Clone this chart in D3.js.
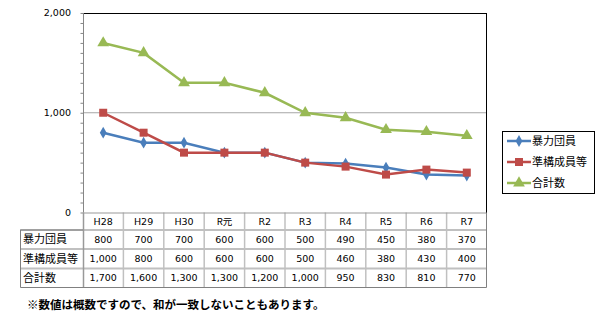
<!DOCTYPE html>
<html><head><meta charset="utf-8">
<script src="https://cdn.jsdelivr.net/npm/d3@7/dist/d3.min.js"></script>
<style>body{margin:0;background:#fff}svg{display:block}</style>
</head><body>
<script>
const categories = ["H28","H29","H30","R元","R2","R3","R4","R5","R6","R7"];
const seriesNames = ["暴力団員","準構成員等","合計数"];
const boryokudan = [800,700,700,600,600,500,490,450,380,370];
const junkosei = [1000,800,600,600,600,500,460,380,430,400];
const gokei = [1700,1600,1300,1300,1200,1000,950,830,810,770];
const yTicks = [0,1000,2000];
const footnote = "※数値は概数ですので、和が一致しないこともあります。";

const colors = ["#4A7EBB","#BE4B48","#98B954"];
const series = [boryokudan, junkosei, gokei];
const W=600,H=325;
const L=83,R=487,T=13,B=212.5;
const svg=d3.select("body").append("svg").attr("width",W).attr("height",H);
const numFont="'DejaVu Sans', Verdana, sans-serif";
const jpFont="'Noto Sans CJK JP', sans-serif";

const x=d3.scaleBand().domain(categories).range([L,R]);
const y=d3.scaleLinear().domain([0,2000]).range([B,T]);

// gridline at 1000
svg.append("line").attr("x1",L).attr("x2",R).attr("y1",y(1000)).attr("y2",y(1000)).attr("stroke","#A6A6A6").attr("stroke-width",1);
// plot border top/right
svg.append("path").attr("d",`M${L},${T+0.5}H${R-0.5}V${B}`).attr("fill","none").attr("stroke","#000").attr("stroke-width",1);

// left axis with minor ticks
const yAxis=d3.axisLeft(y).tickValues(d3.range(0,2001,100)).tickSize(3).tickFormat("");
const ga=svg.append("g").attr("transform",`translate(${L+0.5},0)`).call(yAxis);
ga.selectAll("path,line").attr("stroke","#868686");
ga.select(".domain").attr("d",`M0,${T}V${B}`);
// y labels
svg.selectAll("text.yl").data(yTicks).join("text").attr("class","yl")
 .attr("x",71).attr("y",d=>y(d)).attr("dy","0.35em").attr("text-anchor","end")
 .attr("font-family",numFont).attr("font-size",9.5).attr("fill","#000")
 .text(d=>d3.format(",")(d));

// lines
const line=d3.line().x((d,i)=>x(categories[i])+x.bandwidth()/2).y(d=>y(d));
const shapes=[d3.symbolDiamond,d3.symbolSquare,d3.symbolTriangle];
const sizes=[40,64,60];
series.forEach((s,k)=>{
  svg.append("path").datum(s).attr("d",line).attr("fill","none").attr("stroke",colors[k]).attr("stroke-width",2.5);
});
series.forEach((s,k)=>{
  svg.selectAll("path.m"+k).data(s).join("path").attr("class","m"+k)
   .attr("transform",(d,i)=>`translate(${x(categories[i])+x.bandwidth()/2},${y(d)})`)
   .attr("d",d3.symbol().type(shapes[k]).size(sizes[k])).attr("fill",colors[k]);
});

// table
const rowY=[B,230,249,268.5,287.5];
const TL=20;
const tg=svg.append("g");
// inner light lines
const light="#C0C0C0", dark="#808080";
// horizontal lines
[230,249,268.5].forEach(yy=>{
  tg.append("line").attr("x1",TL).attr("x2",R).attr("y1",yy).attr("y2",yy).attr("stroke",light).attr("stroke-width",2);
});
// vertical lines between categories
categories.forEach((c,i)=>{
  if(i===0) return;
  tg.append("line").attr("x1",x(c)).attr("x2",x(c)).attr("y1",B).attr("y2",287.5).attr("stroke",light).attr("stroke-width",1.5);
});
// label column right edge
tg.append("line").attr("x1",L+0.5).attr("x2",L+0.5).attr("y1",B).attr("y2",287.5).attr("stroke","#999").attr("stroke-width",1.5);
// bottom axis line
tg.append("line").attr("x1",L).attr("x2",R).attr("y1",B+0.5).attr("y2",B+0.5).attr("stroke","#999").attr("stroke-width",1);
// outer border
tg.append("path").attr("d",`M${R-0.5},${T+0.5}V${287.5}H${TL+0.5}V${230}H${L}`).attr("fill","none").attr("stroke",dark).attr("stroke-width",1);
tg.append("line").attr("x1",R-0.5).attr("x2",R-0.5).attr("y1",T).attr("y2",B).attr("stroke","#000");

// category labels
svg.selectAll("text.cl").data(categories).join("text").attr("class","cl")
 .attr("x",d=>x(d)+x.bandwidth()/2).attr("y",222).attr("dy","0.35em").attr("text-anchor","middle")
 .attr("font-family",d=>/[^\x00-\x7f]/.test(d)?jpFont:numFont).attr("font-size",9.5).attr("fill","#000").text(d=>d);

// rows
series.forEach((s,k)=>{
  const cy=(rowY[k+1]+rowY[k+2])/2;
  svg.append("text").attr("x",TL+3).attr("y",cy).attr("dy","0.35em").attr("font-family",jpFont).attr("font-size",11).attr("fill","#000").text(seriesNames[k]);
  svg.selectAll("text.v"+k).data(s).join("text").attr("class","v"+k)
   .attr("x",(d,i)=>x(categories[i])+x.bandwidth()/2).attr("y",cy).attr("dy","0.35em").attr("text-anchor","middle")
   .attr("font-family",numFont).attr("font-size",9.5).attr("fill","#000").text(d=>d3.format(",")(d));
});

// legend
const lg=svg.append("g");
lg.append("rect").attr("x",502.5).attr("y",131.5).attr("width",92).attr("height",62).attr("fill","#fff").attr("stroke","#000").attr("stroke-width",1);
seriesNames.forEach((n,k)=>{
  const ly=141+k*21;
  lg.append("line").attr("x1",507).attr("x2",531).attr("y1",ly).attr("y2",ly).attr("stroke",colors[k]).attr("stroke-width",2.5);
  lg.append("path").attr("transform",`translate(519,${ly})`).attr("d",d3.symbol().type(shapes[k]).size(sizes[k])).attr("fill",colors[k]);
  lg.append("text").attr("x",532).attr("y",ly).attr("dy","0.35em").attr("font-family",jpFont).attr("font-size",11).attr("fill","#000").text(n);
});

// footnote
svg.append("text").attr("x",27).attr("y",305).attr("dy","0.35em").attr("font-family",jpFont).attr("font-size",11.5).attr("font-weight","bold").attr("fill","#000").text(footnote);
</script>
</body></html>
